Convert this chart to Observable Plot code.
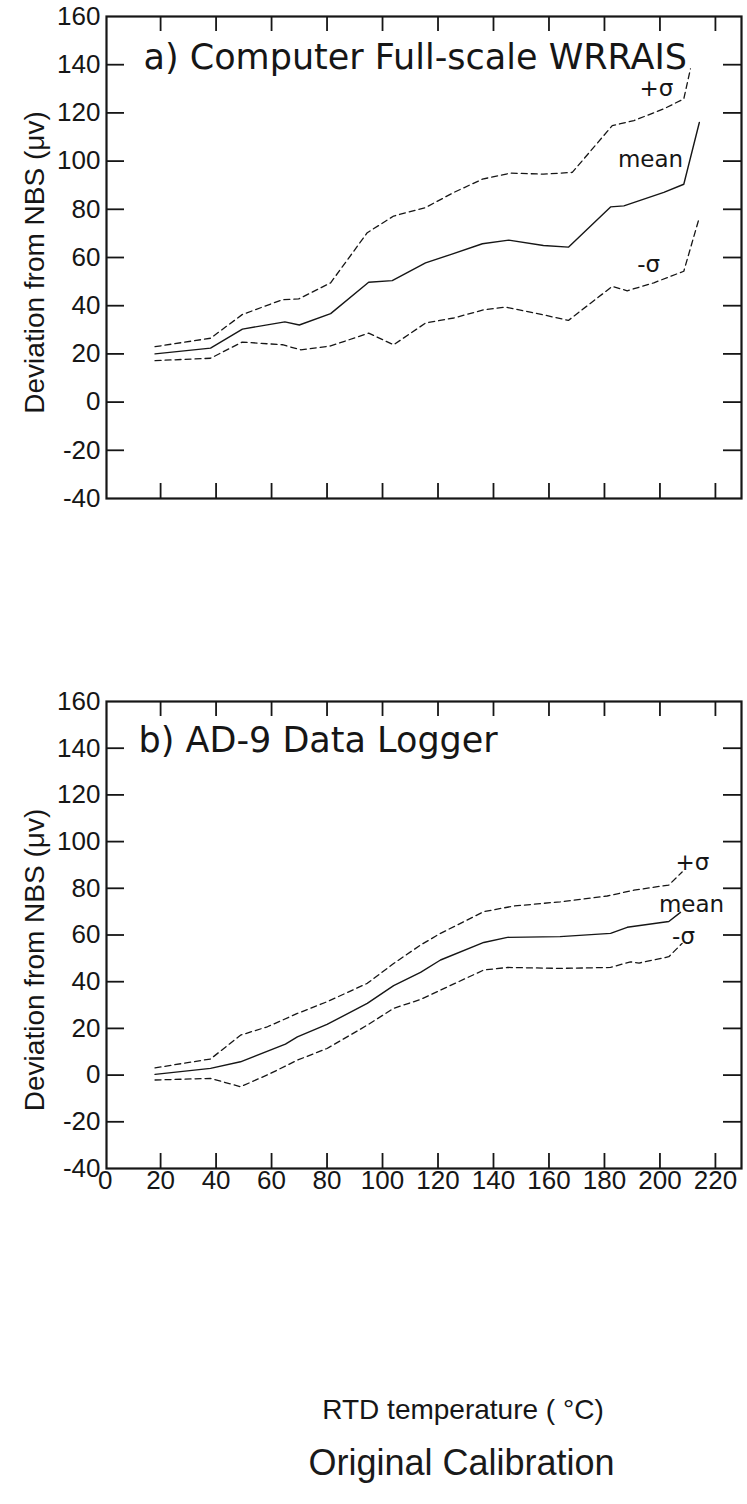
<!DOCTYPE html>
<html>
<head>
<meta charset="utf-8">
<script src="https://cdn.jsdelivr.net/npm/d3@7"></script>
<script src="https://cdn.jsdelivr.net/npm/@observablehq/plot@0.6"></script>
<style>
  body { margin: 0; background: #fff; }
  #chart svg { display: block; }
  #caption {
    font-family: "Liberation Sans", sans-serif;
    font-size: 36px;
    line-height: 40px;
    color: #1a1a1a;
    text-align: center;
    width: 747px;
    box-sizing: border-box;
    padding-left: 176px;
    margin-top: 3px;
  }
</style>
</head>
<body>
<div id="chart"></div>
<div id="caption">Original Calibration</div>
<script>
// Panel a) Computer Full-scale WRRAIS — temperature (°C) and deviation (µV)
const aMeanT  = [18, 38, 49.5, 64.8, 70, 81.3, 95, 103.5, 115.5, 124.5, 136, 145.5, 158, 167, 182.2, 187, 201.4, 208.6, 214.2];
const aMeanV  = [20, 22.4, 30.3, 33.3, 32, 36.7, 49.7, 50.4, 57.8, 61.2, 65.7, 67.2, 65, 64.3, 81, 81.4, 87, 90.4, 116];
const aPlusT  = [18, 38, 49.4, 63.9, 69.8, 81.3, 94.5, 104, 115.5, 125.7, 136, 146, 158, 168.4, 182.8, 190.6, 201.4, 208.6, 211];
const aPlusV  = [23, 26.5, 36.3, 42.5, 42.8, 49.5, 70.3, 77.2, 80.7, 87, 92.5, 95, 94.6, 95.3, 114.7, 116.8, 121.7, 125.8, 138.3];
const aMinusT = [18, 38, 49.4, 63.9, 70.5, 81.3, 95, 104, 115.5, 125.7, 136.5, 144.3, 158, 167, 182.8, 188.2, 197.8, 208.6, 214];
const aMinusV = [17.2, 18.2, 24.9, 23.8, 21.7, 23.3, 28.6, 23.8, 32.8, 34.9, 38.3, 39.4, 36.2, 33.9, 48, 46.2, 49.5, 54.3, 75.8];

// Panel b) AD-9 Data Logger
const bMeanT  = [18, 38, 48.8, 65, 69.3, 80, 94.5, 104, 113.7, 120.9, 136.5, 145, 164, 182.2, 188.2, 203.2, 207.4];
const bMeanV  = [0.3, 2.9, 5.7, 13.3, 16.4, 21.7, 30.7, 38.3, 44, 49.3, 56.8, 59, 59.3, 60.7, 63.3, 65.8, 69.7];
const bPlusT  = [18, 38, 48.8, 58.5, 69.3, 80, 94.5, 104, 113.7, 120.9, 136.5, 147.3, 164, 181, 190.6, 203.2, 208];
const bPlusV  = [3.1, 6.9, 17.1, 20.7, 26.4, 31.4, 39.3, 47.8, 55.7, 60.7, 70, 72.4, 74.2, 76.7, 79.2, 81.4, 87];
const bMinusT = [18, 38, 48.8, 59.6, 69.3, 80, 94.5, 104, 113.7, 120.9, 136.5, 145, 164, 182.2, 189.4, 192.5, 203.2, 208];
const bMinusV = [-2.1, -1.4, -5, 0.7, 6.4, 11.4, 21.4, 28.6, 32.4, 36.4, 45, 46.1, 45.7, 46.1, 48.5, 48, 50.7, 56.4];

// Series annotations (label text with its anchor in data units)
const seriesNames = ["+σ", "mean", "-σ"];
const aLabelT = [198.7, 196.6, 195.9];
const aLabelV = [130, 100.8, 57];
const bLabelT = [211.7, 211.4, 208.5];
const bLabelV = [91.2, 72.8, 59.1];

// Axes
const xDomain = [0.5, 229.4];
const yDomain = [-40, 160];
const xTickMarks = [20, 40, 60, 80, 100, 120, 140, 160, 180, 200, 220];
const yTickMarks = [-20, 0, 20, 40, 60, 80, 100, 120, 140];
const xTickLabels = [0, 20, 40, 60, 80, 100, 120, 140, 160, 180, 200, 220];
const yTickLabels = [-40, -20, 0, 20, 40, 60, 80, 100, 120, 140, 160];

const panelTitleA = "a) Computer Full-scale WRRAIS";
const panelTitleB = "b) AD-9 Data Logger";
const yTitle = "Deviation from NBS (μv)";
const xTitle = "RTD temperature ( °C)";

const ink = "#161616";
const zip = (ts, vs) => ts.map((t, i) => ({t, v: vs[i]}));

// Inward tick marks on the four sides of the frame; tick lengths are given in
// pixels and converted to data units for the panel's frame size.
function inwardTicks(frameW, frameH) {
  const [x0, x1] = xDomain, [y0, y1] = yDomain;
  const dxLen = 18 * (x1 - x0) / frameW;   // 18 px along x
  const dyLen = 15 * (y1 - y0) / frameH;   // 15 px along y
  const base = {stroke: ink, strokeWidth: 1.8};
  return [
    Plot.ruleX(xTickMarks, {x: d => d, y1: y1, y2: y1 - dyLen, ...base}),
    Plot.ruleX(xTickMarks, {x: d => d, y1: y0, y2: y0 + dyLen, ...base}),
    Plot.ruleY(yTickMarks, {y: d => d, x1: x0, x2: x0 + dxLen, ...base}),
    Plot.ruleY(yTickMarks, {y: d => d, x1: x1, x2: x1 - dxLen, ...base})
  ];
}

function panel({mean, plus, minus, labels, title, titleDx, titleDy, yTitleDy,
                height, marginTop, marginBottom, withXAxis}) {
  const frameW = 747 - 106 - 6;
  const frameH = height - marginTop - marginBottom;
  const marks = [
    ...inwardTicks(frameW, frameH),
    Plot.frame({stroke: ink, strokeWidth: 2.2}),
    Plot.axisY(yTickLabels, {anchor: "left", label: null, tickSize: 0, tickPadding: 6,
      tickFormat: d => String(d), fontSize: 26, fontFamily: "Liberation Sans", fill: ink}),
    Plot.line(plus, {x: "t", y: "v", stroke: ink, strokeWidth: 1.3, strokeDasharray: "6,4"}),
    Plot.line(minus, {x: "t", y: "v", stroke: ink, strokeWidth: 1.3, strokeDasharray: "6,4"}),
    Plot.line(mean, {x: "t", y: "v", stroke: ink, strokeWidth: 1.4}),
    Plot.text(labels, {x: "t", y: "v", text: "name", fontSize: 23,
      fontFamily: "DejaVu Sans", fill: ink}),
    Plot.text([title], {frameAnchor: "top-left", dx: titleDx, dy: titleDy, textAnchor: "start",
      lineAnchor: "middle", fontSize: 35, fontFamily: "DejaVu Sans", fill: ink}),
    Plot.text([yTitle], {frameAnchor: "left", textAnchor: "middle", lineAnchor: "middle",
      rotate: -90, dx: -71, dy: yTitleDy, fontSize: 28, fontFamily: "Liberation Sans", fill: ink})
  ];
  if (withXAxis) {
    marks.push(
      Plot.axisX(xTickLabels, {anchor: "bottom", label: null, tickSize: 0, tickPadding: 2,
        tickFormat: d => String(d), fontSize: 26, fontFamily: "Liberation Sans", fill: ink}),
      Plot.text([xTitle], {frameAnchor: "bottom", textAnchor: "middle", lineAnchor: "middle",
        dx: 39, dy: 242, fontSize: 28, fontFamily: "Liberation Sans", fill: ink})
    );
  }
  return Plot.plot({
    width: 747,
    height,
    marginTop,
    marginBottom,
    marginLeft: 106,
    marginRight: 6,
    x: {domain: xDomain, axis: null},
    y: {domain: yDomain, axis: null},
    style: {fontFamily: "Liberation Sans", background: "#fff", overflow: "visible"},
    marks
  });
}

const toLabels = (ts, vs) => seriesNames.map((name, i) => ({name, t: ts[i], v: vs[i]}));

const chart = document.getElementById("chart");
chart.append(panel({
  mean: zip(aMeanT, aMeanV), plus: zip(aPlusT, aPlusV), minus: zip(aMinusT, aMinusV),
  labels: toLabels(aLabelT, aLabelV), title: panelTitleA, titleDx: 37, titleDy: 41, yTitleDy: 5,
  height: 500, marginTop: 16, marginBottom: 2, withXAxis: false
}));
chart.append(panel({
  mean: zip(bMeanT, bMeanV), plus: zip(bPlusT, bPlusV), minus: zip(bMinusT, bMinusV),
  labels: toLabels(bLabelT, bLabelV), title: panelTitleB, titleDx: 32, titleDy: 39, yTitleDy: 25,
  height: 940, marginTop: 201, marginBottom: 272, withXAxis: true
}));
</script>
</body>
</html>
